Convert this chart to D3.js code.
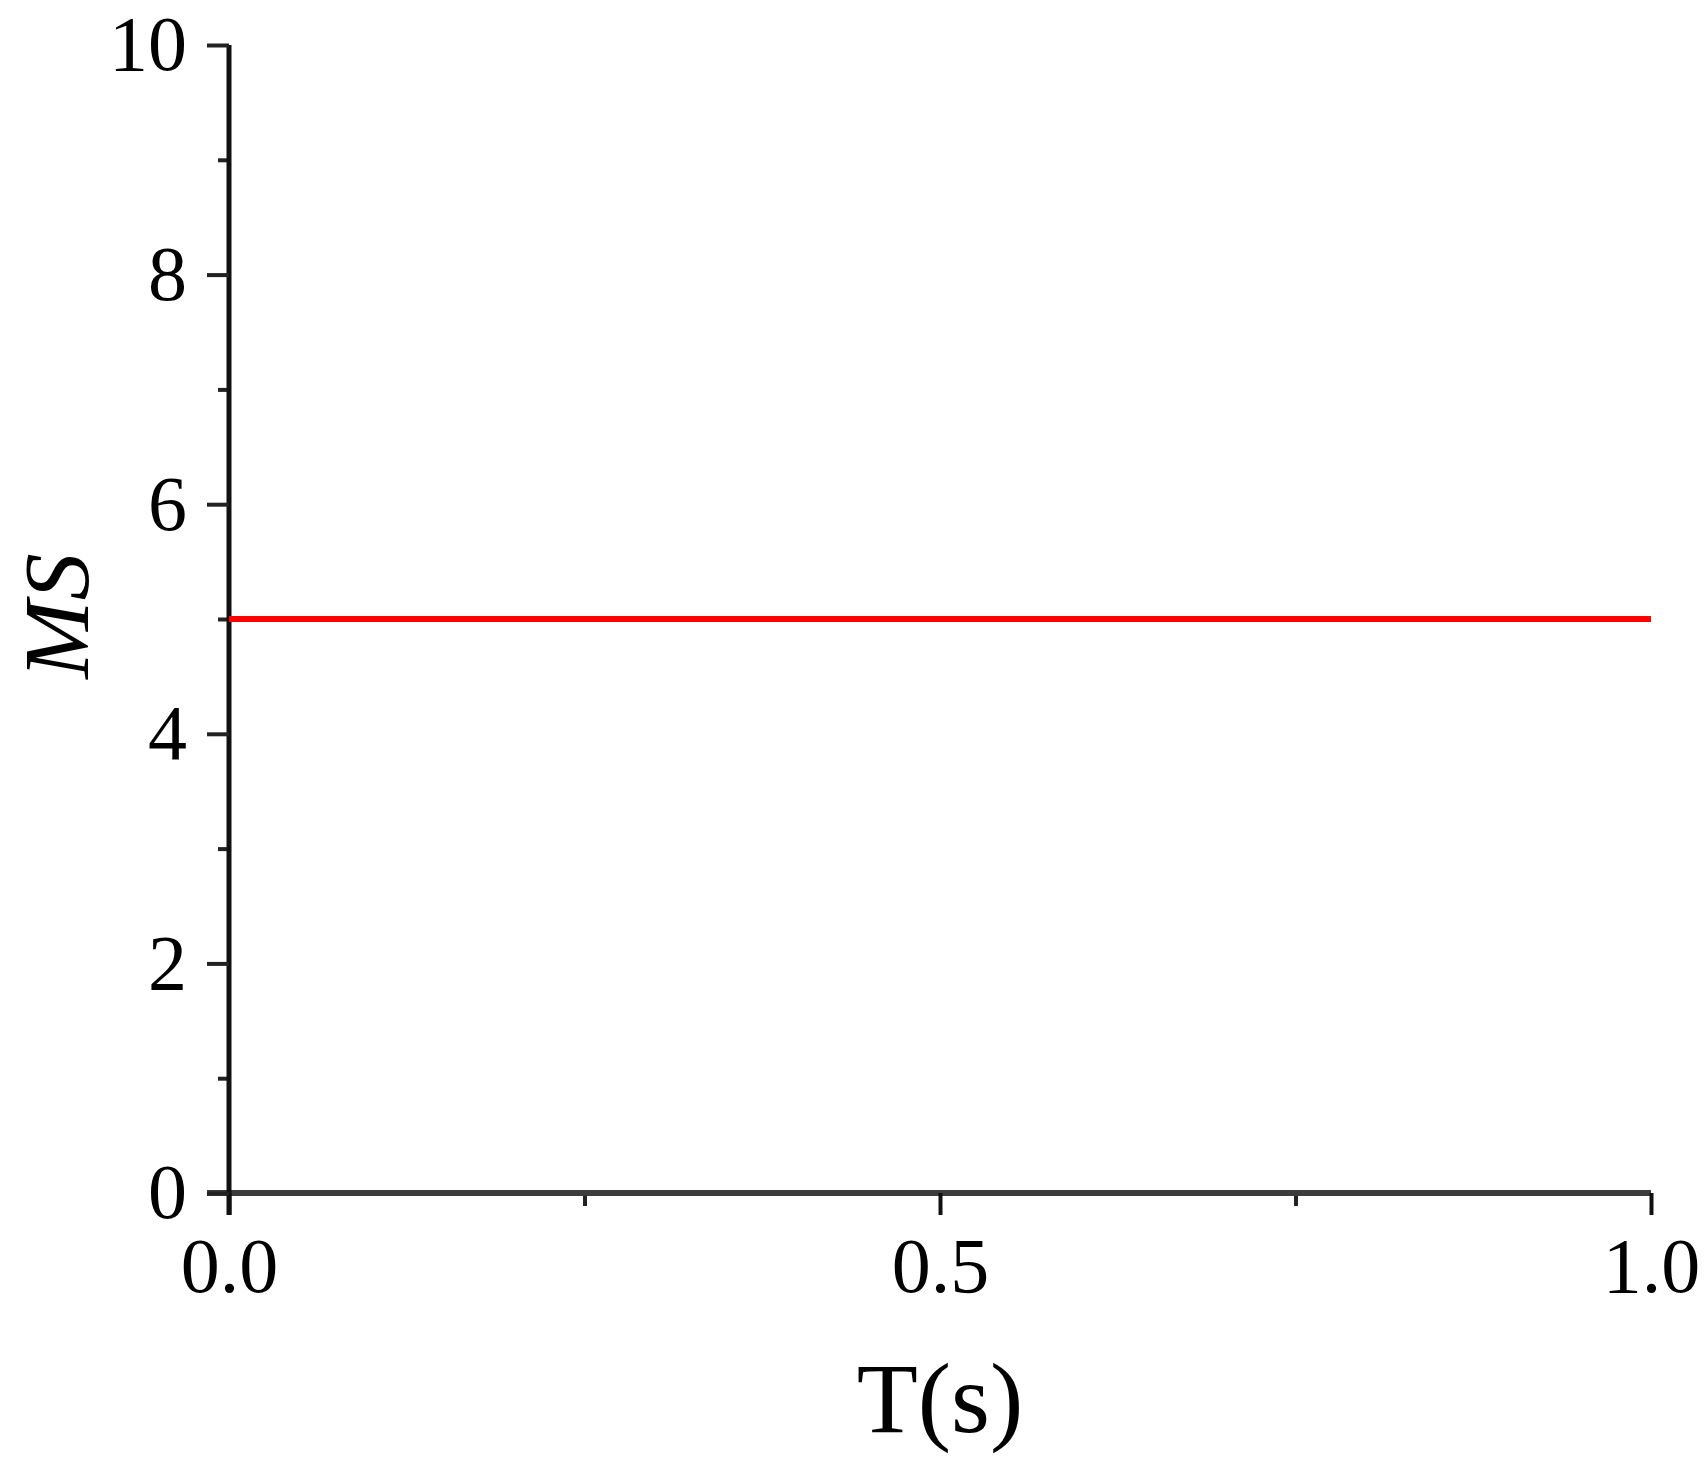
<!DOCTYPE html>
<html>
<head>
    <meta charset="utf-8">
    <title>MS vs T</title>
    <script src="https://d3js.org/d3.v7.min.js"></script>
    <style>
        body { margin: 0; background: #ffffff; }
        #chart text { font-family: "Liberation Serif", "Times New Roman", serif !important; fill: #000; }
    </style>
</head>
<body>
    <svg id="chart"></svg>
    <script>
        // data
        const timeValues = [0, 1];
        const msValues = [5, 5];
        const xTickValues = [0, 0.5, 1];
        const xMinorTicks = [0.25, 0.75];
        const yTickValues = [0, 2, 4, 6, 8, 10];
        const yMinorTicks = [1, 3, 5, 7, 9];

        const svgWidth = 1707, svgHeight = 1469;
        const margin = { top: 45, right: 56, bottom: 276, left: 229 };
        const width = svgWidth - margin.left - margin.right;
        const height = svgHeight - margin.top - margin.bottom;

        const svg = d3.select("#chart")
            .attr("width", svgWidth)
            .attr("height", svgHeight);

        const g = svg.append("g")
            .attr("transform", "translate(" + margin.left + "," + margin.top + ")");

        const x = d3.scaleLinear().domain([0, 1]).range([0, width]);
        const y = d3.scaleLinear().domain([0, 10]).range([height, 0]);

        // minor ticks first, under the main axes
        g.append("g")
            .attr("transform", "translate(0," + height + ")")
            .call(d3.axisBottom(x).tickValues(xMinorTicks).tickSize(13).tickFormat(""))
            .call(a => a.select(".domain").remove())
            .selectAll("line").attr("stroke", "#222").attr("stroke-width", 4);

        g.append("g")
            .call(d3.axisLeft(y).tickValues(yMinorTicks).tickSize(11).tickFormat(""))
            .call(a => a.select(".domain").remove())
            .selectAll("line").attr("stroke", "#222").attr("stroke-width", 4);

        // x axis
        const xAxis = g.append("g")
            .attr("transform", "translate(0," + height + ")")
            .call(d3.axisBottom(x).tickValues(xTickValues).tickSize(22).tickPadding(22)
                .tickFormat(d3.format(".1f")));
        xAxis.attr("font-family", null);
        xAxis.select(".domain")
            .attr("d", "M-22,0H" + width)
            .attr("stroke", "#3c3c3c").attr("stroke-width", 6);
        xAxis.selectAll("line").attr("stroke", "#111").attr("stroke-width", 4);
        xAxis.selectAll("text").style("font-size", "78px");

        // y axis
        const yAxis = g.append("g")
            .call(d3.axisLeft(y).tickValues(yTickValues).tickSize(22).tickPadding(20));
        yAxis.attr("font-family", null);
        yAxis.select(".domain")
            .attr("d", "M0,0V" + (height + 22))
            .attr("stroke", "#111").attr("stroke-width", 5);
        yAxis.selectAll("line").attr("stroke", "#222").attr("stroke-width", 4);
        yAxis.selectAll("text").style("font-size", "78px");

        // red line
        const line = d3.line()
            .x((d, i) => x(timeValues[i]))
            .y(d => y(d));

        g.append("path")
            .datum(msValues)
            .attr("fill", "none")
            .attr("stroke", "#ff0000")
            .attr("stroke-width", 6)
            .attr("d", line);

        // axis titles
        svg.append("text")
            .attr("x", margin.left + width / 2)
            .attr("y", 1432)
            .attr("text-anchor", "middle")
            .style("font-size", "100px")
            .text("T(s)");

        svg.append("text")
            .attr("transform", "translate(88,616) rotate(-90)")
            .attr("text-anchor", "middle")
            .style("font-size", "94px")
            .style("font-style", "italic")
            .text("MS");
    </script>
</body>
</html>
